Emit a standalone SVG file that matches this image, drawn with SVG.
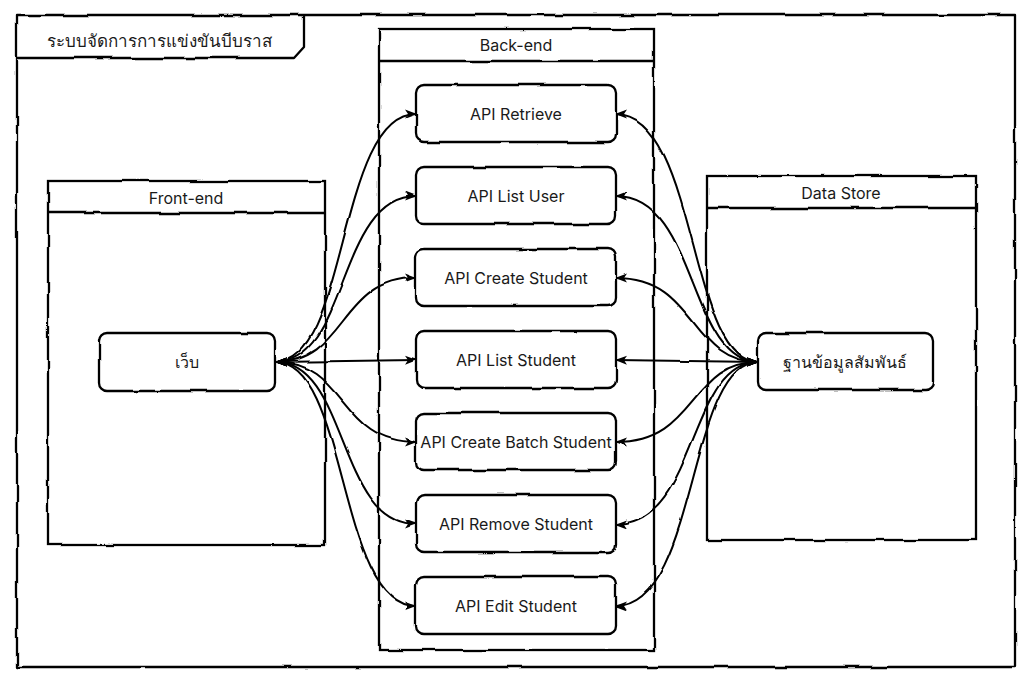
<svg xmlns="http://www.w3.org/2000/svg" width="1032" height="682" viewBox="0 0 1032 682">
  <defs>
    <style>
      .ln { fill: none; stroke: #000; stroke-width: 2.3; stroke-linejoin: round; }
      .box { fill: #fff; stroke: #000; stroke-width: 2.3; }
      .edge { fill: none; stroke: #000; stroke-width: 2; }
      .t { font-family: "Inter", "Noto Sans", "DejaVu Sans", sans-serif; font-size: 16px; fill: #1a1a1a; text-anchor: middle; dominant-baseline: central; }
      .tl { text-anchor: start; font-size: 17px; }
    </style>
    <filter id="rough" x="-5%" y="-5%" width="110%" height="110%">
      <feTurbulence type="fractalNoise" baseFrequency="0.03" numOctaves="2" seed="3" result="n"/>
      <feDisplacementMap in="SourceGraphic" in2="n" scale="3.2" xChannelSelector="R" yChannelSelector="G"/>
    </filter>
    <marker id="ah" viewBox="0 0 12 10" refX="11" refY="5" markerWidth="12" markerHeight="10" markerUnits="userSpaceOnUse" orient="auto-start-reverse">
      <path d="M0,0.5 L12,5 L0,9.5 L3,5 Z" fill="#000"/>
    </marker>
  </defs>

  <rect width="1032" height="682" fill="#fff"/>

  <!-- outer system frame with title tab -->
  <g id="system" filter="url(#rough)">
    <rect class="ln" x="17" y="15" width="998" height="652"/>
    <path class="ln" d="M17,58 L294,58 L304,47 L304,15"/>
  </g>
  <text class="t tl" x="47" y="41">ระบบจัดการการแข่งขันบีบราส</text>

  <!-- lanes -->
  <g id="frontend" filter="url(#rough)">
    <rect class="box" x="48" y="181" width="277" height="364"/>
    <line class="ln" x1="48" y1="213" x2="325" y2="213"/>
  </g>
  <text class="t" x="186" y="198">Front-end</text>

  <g id="backend" filter="url(#rough)">
    <rect class="box" x="379" y="29" width="275" height="621"/>
    <line class="ln" x1="379" y1="61" x2="654" y2="61"/>
  </g>
  <text class="t" x="516" y="45">Back-end</text>

  <g id="datastore" filter="url(#rough)">
    <rect class="box" x="707" y="176" width="269" height="364"/>
    <line class="ln" x1="707" y1="208" x2="976" y2="208"/>
  </g>
  <text class="t" x="841" y="193">Data Store</text>

  <!-- connectors -->
  <g id="connectors" filter="url(#rough)">
    <path class="edge" marker-start="url(#ah)" marker-end="url(#ah)" d="M276,362 C348,362 338,114 416,114"/>
    <path class="edge" marker-start="url(#ah)" marker-end="url(#ah)" d="M276,362 C348,362 338,196 416,196"/>
    <path class="edge" marker-start="url(#ah)" marker-end="url(#ah)" d="M276,362 C348,362 338,278 416,278"/>
    <path class="edge" marker-start="url(#ah)" marker-end="url(#ah)" d="M276,362 L416,360"/>
    <path class="edge" marker-start="url(#ah)" marker-end="url(#ah)" d="M276,362 C348,362 338,442 416,442"/>
    <path class="edge" marker-start="url(#ah)" marker-end="url(#ah)" d="M276,362 C348,362 338,524 416,524"/>
    <path class="edge" marker-start="url(#ah)" marker-end="url(#ah)" d="M276,362 C348,362 338,606 416,606"/>

    <path class="edge" marker-start="url(#ah)" marker-end="url(#ah)" d="M616,114 C698,114 688,362 758,362"/>
    <path class="edge" marker-start="url(#ah)" marker-end="url(#ah)" d="M616,196 C698,196 688,362 758,362"/>
    <path class="edge" marker-start="url(#ah)" marker-end="url(#ah)" d="M616,278 C698,278 688,362 758,362"/>
    <path class="edge" marker-start="url(#ah)" marker-end="url(#ah)" d="M616,360 L758,362"/>
    <path class="edge" marker-start="url(#ah)" marker-end="url(#ah)" d="M616,442 C698,442 688,362 758,362"/>
    <path class="edge" marker-start="url(#ah)" marker-end="url(#ah)" d="M616,524 C698,524 688,362 758,362"/>
    <path class="edge" marker-start="url(#ah)" marker-end="url(#ah)" d="M616,606 C698,606 688,362 758,362"/>
  </g>

  <!-- nodes -->
  <g id="web">
    <rect class="box" x="99" y="333" width="176" height="58" rx="8" filter="url(#rough)"/>
    <text class="t" x="187" y="362">เว็บ</text>
  </g>
  <g id="rdb">
    <rect class="box" x="758" y="333" width="175" height="57" rx="8" filter="url(#rough)"/>
    <text class="t" x="845" y="362">ฐานข้อมูลสัมพันธ์</text>
  </g>

  <g id="api-retrieve">
    <rect class="box" x="416" y="85" width="200" height="57" rx="8" filter="url(#rough)"/>
    <text class="t" x="516" y="114">API Retrieve</text>
  </g>
  <g id="api-list-user">
    <rect class="box" x="416" y="167" width="200" height="57" rx="8" filter="url(#rough)"/>
    <text class="t" x="516" y="196">API List User</text>
  </g>
  <g id="api-create-student">
    <rect class="box" x="416" y="249" width="200" height="57" rx="8" filter="url(#rough)"/>
    <text class="t" x="516" y="278">API Create Student</text>
  </g>
  <g id="api-list-student">
    <rect class="box" x="416" y="331" width="200" height="57" rx="8" filter="url(#rough)"/>
    <text class="t" x="516" y="360">API List Student</text>
  </g>
  <g id="api-create-batch-student">
    <rect class="box" x="416" y="413" width="200" height="57" rx="8" filter="url(#rough)"/>
    <text class="t" x="516" y="442">API Create Batch Student</text>
  </g>
  <g id="api-remove-student">
    <rect class="box" x="416" y="495" width="200" height="57" rx="8" filter="url(#rough)"/>
    <text class="t" x="516" y="524">API Remove Student</text>
  </g>
  <g id="api-edit-student">
    <rect class="box" x="416" y="577" width="200" height="57" rx="8" filter="url(#rough)"/>
    <text class="t" x="516" y="606">API Edit Student</text>
  </g>
</svg>
